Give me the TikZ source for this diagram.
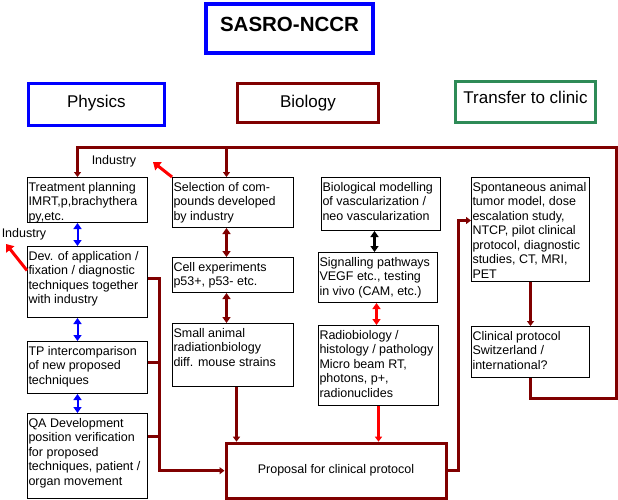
\documentclass[tikz,border=0pt]{standalone}
\usepackage{fontspec}
\setmainfont{Liberation Sans}
\usepackage{tikz}
\usetikzlibrary{arrows.meta}
\definecolor{darkRed}{RGB}{128,0,0}
\definecolor{clinicGreen}{RGB}{46,139,87}
\newcommand{\boxText}[3]{\parbox[t][#2pt][t]{#1pt}{\raggedright\rule{0pt}{11.5pt}#3}}

\begin{document}
\begin{tikzpicture}[x=1pt,y=-1pt]
               \tikzstyle{myBox}=[draw, line width=1pt, anchor=north west, inner xsep=1pt, inner ysep=2pt, font=\fontsize{12.5}{14.5}\selectfont]
               \tikzstyle{myHead}=[draw, line width=3pt, anchor=north west, inner sep=0pt, font=\fontsize{17}{19}\selectfont]
               \tikzstyle{myLabel}=[inner sep=1pt, font=\fontsize{12.5}{14.5}\selectfont]
               \tikzstyle{myBus}=[darkRed, line width=3pt, -{Triangle[length=5pt,width=7pt]}]
               \tikzstyle{myLine}=[darkRed, line width=3pt]
               \tikzstyle{myBoth}=[line width=2.5pt, {Triangle[length=6pt,width=8pt]}-{Triangle[length=6pt,width=8pt]}]
               \tikzstyle{myPoint}=[red, line width=3pt, -{Triangle[length=7pt,width=10pt]}]

               \useasboundingbox (0,0) rectangle (618,500);

               \node[myHead, blue, line width=4pt, minimum width=167.6pt, minimum height=49.3pt, font=\fontsize{20.5}{22}\selectfont\bfseries] (title) at (203.7,2) {\raisebox{4.2pt}[14.7pt][0pt]{\textcolor{black}{SASRO-NCCR}}};
               \node[myHead, blue, minimum width=136.7pt, minimum height=42pt] (physics) at (26.5,82.5) {\raisebox{3.8pt}[12.2pt][0pt]{\textcolor{black}{Physics}}};
               \node[myHead, darkRed, minimum width=141.4pt, minimum height=38.7pt] (biology) at (235.8,82.5) {\raisebox{2.2pt}[12.2pt][0pt]{\textcolor{black}{Biology}}};
               \node[myHead, clinicGreen, minimum width=140.4pt, minimum height=41pt] (clinic) at (453.8,79.8) {\raisebox{4pt}[12.2pt][0pt]{\textcolor{black}{Transfer to clinic}}};

               \node[myBox] (tp) at (27,177) {\boxText{118}{41}{Treatment planning\\IMRT,p,brachythera\\py,etc.}};
               \node[myBox] (dev) at (27,246) {\boxText{118}{67}{Dev. of application /\\fixation / diagnostic\\techniques together\\with industry}};
               \node[myBox] (tpi) at (27,341) {\boxText{118}{48}{TP intercomparison\\of new proposed\\techniques}};
               \node[myBox] (qa) at (27,413) {\boxText{118}{81}{QA Development\\position verification\\for proposed\\techniques, patient /\\organ movement}};

               \node[myBox] (sel) at (172,177) {\boxText{119}{46}{Selection of com-\\pounds developed\\by industry}};
               \node[myBox] (cell) at (172,257) {\boxText{119}{31}{Cell experiments\\p53+, p53- etc.}};
               \node[myBox] (small) at (172,323) {\boxText{119}{59}{Small animal\\radiationbiology\\diff. mouse strains}};

               \node[myBox] (bio) at (321,177) {\boxText{117}{49}{Biological modelling\\of vascularization /\\neo vascularization}};
               \node[myBox] (sig) at (318,252) {\boxText{117}{46}{Signalling pathways\\VEGF etc., testing\\in vivo (CAM, etc.)}};
               \node[myBox] (radio) at (318,325) {\boxText{118}{76}{Radiobiology /\\histology / pathology\\Micro beam RT,\\photons, p+,\\radionuclides}};

               \node[myBox] (spont) at (471,177) {\boxText{116}{100}{Spontaneous animal\\tumor model, dose\\escalation study,\\NTCP, pilot clinical\\protocol, diagnostic\\studies, CT, MRI,\\PET}};
               \node[myBox] (clin) at (471,326) {\boxText{116}{47}{Clinical protocol\\Switzerland /\\international?}};

               \node[myBox, darkRed, line width=3pt, minimum width=220pt, minimum height=55pt, inner sep=0pt] (prop) at (224.5,441.7) {\textcolor{black}{Proposal for clinical protocol}};

               \node[myLabel] (ind1) at (114,161) {Industry};
               \node[myLabel] (ind2) at (24,234) {Industry};

               \coordinate (loopR) at (616,398);
               \coordinate (loopT) at (616,147);
               \coordinate (selIn) at ([xshift=-6.5pt]sel.north);
               \coordinate (smallOut) at ([xshift=3.5pt]small.south);
               \coordinate (busX) at ([xshift=-65.5pt]prop.west);
               \coordinate (tpiOut) at ([yshift=5pt]tpi.east);
               \coordinate (qaOut) at ([yshift=19.5pt]qa.east);
               \coordinate (spontIn) at ([yshift=9pt]spont.west);
               \coordinate (ind1Tip) at (153,162);
               \coordinate (ind2Tip) at (6,244);

               \draw[myBus] (clin.south) |- (loopR) -- (loopT) -| ([xshift=-10pt]tp.north);
               \draw[myBus] (selIn |- loopT) -- (selIn);

               \draw[myBoth, blue, line width=2pt] ([xshift=-10pt]tp.south) -- ([xshift=-10pt]dev.north);
               \draw[myBoth, blue, line width=2pt] ([xshift=-10pt]dev.south) -- ([xshift=-10pt]tpi.north);
               \draw[myBoth, blue, line width=2pt] ([xshift=-10pt]tpi.south) -- ([xshift=-10pt]qa.north);

               \draw[myBoth, darkRed] ([xshift=-6.5pt]sel.south) -- ([xshift=-6.5pt]cell.north);
               \draw[myBoth, darkRed] ([xshift=-6.5pt]cell.south) -- ([xshift=-6.5pt]small.north);
               \draw[myBoth, black] ([xshift=-6.5pt]bio.south) -- ([xshift=-3.5pt]sig.north);
               \draw[myBoth, red] ([xshift=-1.5pt]sig.south) -- ([xshift=-2pt]radio.north);

               \draw[myBus] (smallOut) -- (smallOut |- prop.north);
               \draw[myBus, red] (radio.south) -- (radio.south |- prop.north);

               \draw[myBus] ([yshift=3.5pt]dev.east) -| (busX) -- (prop.west);
               \draw[myLine] (tpiOut) -- (tpiOut -| busX);
               \draw[myLine] (qaOut) -- (qaOut -| busX);

               \draw[myBus] (prop.east) -| ([xshift=-13pt]spontIn) -- (spontIn);
               \draw[myBus] (spont.south) -- (clin.north);

               \draw[myPoint] (sel.north west) -- (ind1Tip);
               \draw[myPoint] ([yshift=11.5pt]dev.west) -- (ind2Tip);
            \end{tikzpicture}
\end{document}
